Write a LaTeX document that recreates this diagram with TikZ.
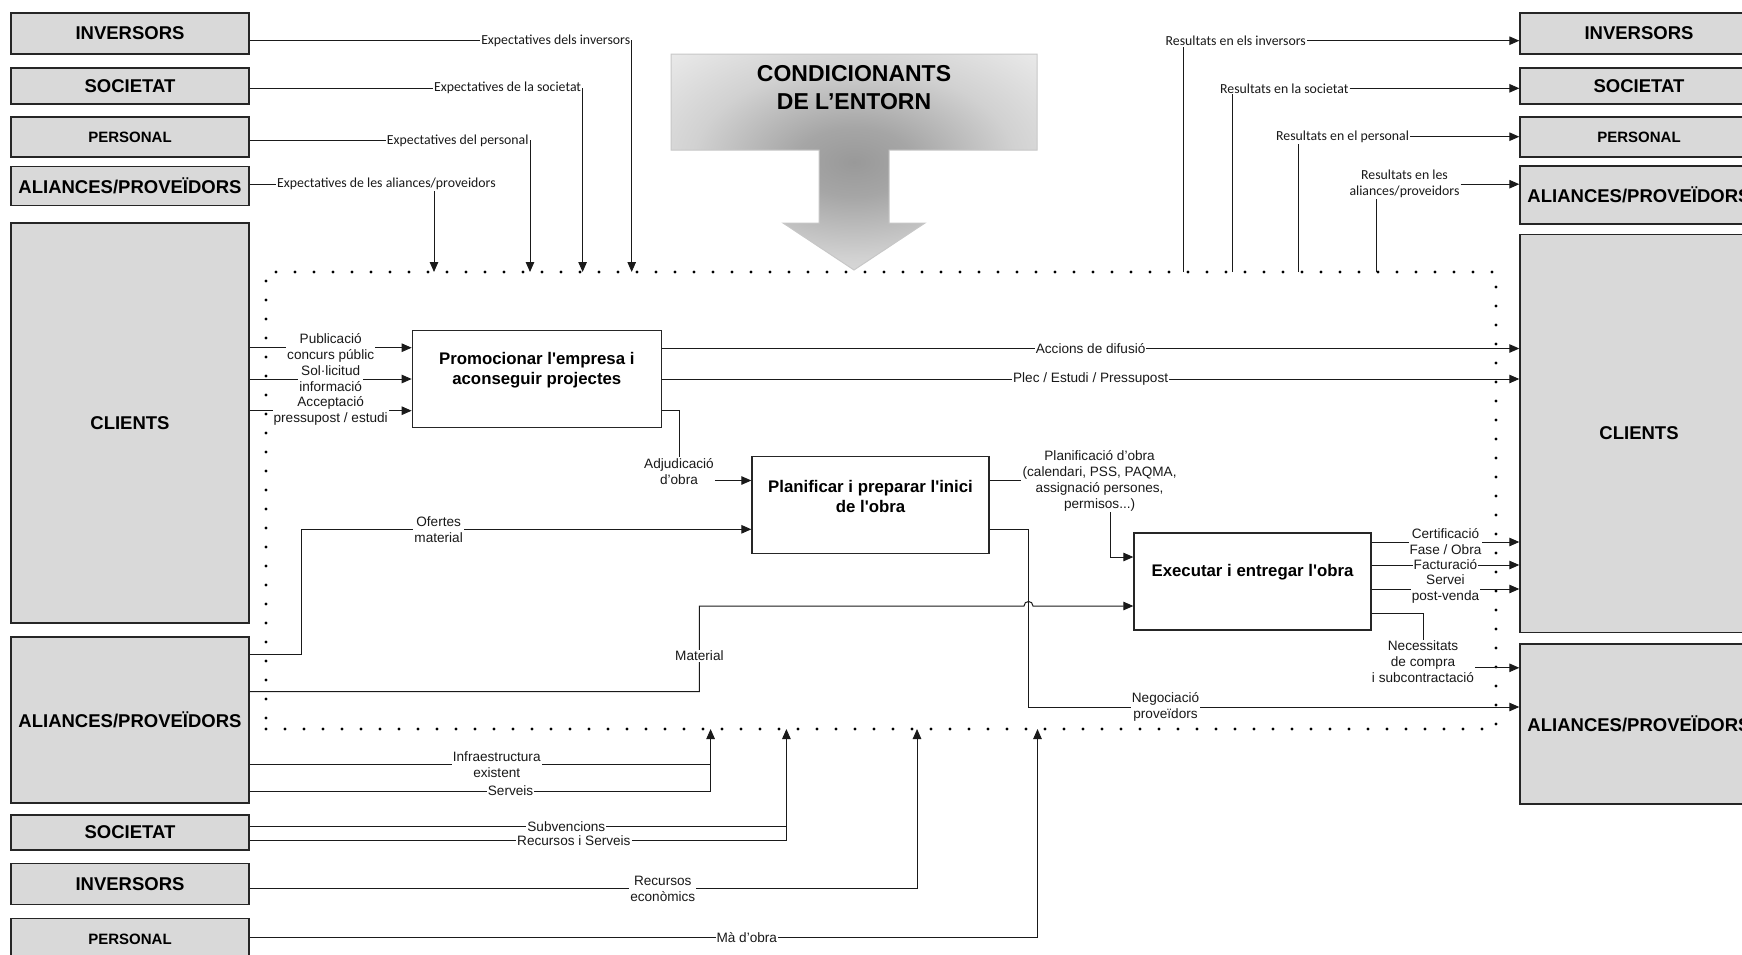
\documentclass[tikz,border=0pt]{standalone}
\usepackage{fontspec}
\setmainfont{Liberation Sans}
\newfontfamily\calfont{Carlito}
\usetikzlibrary{arrows.meta}
\definecolor{boxgray}{HTML}{D9D9D9}
\definecolor{lnk}{HTML}{1A1A1A}
\pgfdeclareradialshading{condshade}{\pgfpoint{0bp}{0bp}}{color(0bp)=(black!40); color(8bp)=(black!35); color(22bp)=(black!18); color(36bp)=(black!8); color(50bp)=(black!5)}
\newcommand\apos{\XeTeXglyph\XeTeXcharglyph"27\relax}

\begin{document}
\begin{tikzpicture}[x=1pt,y=-1pt,>={Triangle[length=10pt,width=8.5pt]},
    ent/.style={draw=black!85,fill=boxgray,line width=1.4pt,minimum width=238pt,inner sep=0pt,font=\bfseries\fontsize{18.5}{20}\selectfont},
    entsm/.style={ent,font=\bfseries\fontsize{15}{17}\selectfont},
    proc/.style={draw=black!85,fill=white,line width=1.3pt,inner sep=0pt,minimum width=237pt,minimum height=97pt},
    ptext/.style={yshift=9pt,align=center,font=\bfseries\fontsize{16.8}{20}\selectfont},
    lbl/.style={fill=white,inner sep=1pt,align=center,text=black!90,font=\fontsize{13.6}{16}\selectfont},
    lblc/.style={lbl,font=\calfont\fontsize{13.8}{16}\selectfont},
    flow/.style={draw=lnk,line width=1pt},
    dotbox/.style={draw,line width=3.2pt,dash pattern=on 0pt off 19pt,line cap=round,outer sep=0pt,inner sep=0pt}]
    \useasboundingbox (0,0) rectangle (1742,954);
    \clip (0,0) rectangle (1742,954);

    \node[ent,minimum height=41pt] (invL) at (130,33.5) {INVERSORS};
    \node[ent,minimum height=36pt] (socL) at (130,86) {SOCIETAT};
    \node[entsm,minimum height=40pt] (perL) at (130,137) {PERSONAL};
    \node[ent,minimum height=39pt] (aliL) at (130,186) {ALIANCES/PROVEÏDORS};
    \node[ent,minimum height=400pt] (cliL) at (130,423) {CLIENTS};
    \node[ent,minimum height=166pt] (aliB) at (130,720) {ALIANCES/PROVEÏDORS};
    \node[ent,minimum height=35pt] (socB) at (130,832.5) {SOCIETAT};
    \node[ent,minimum height=41pt] (invB) at (130,884) {INVERSORS};
    \node[entsm,minimum height=41pt] (perB) at (130,939) {PERSONAL};

    \node[ent,minimum height=41pt] (invR) at (1639,33.5) {INVERSORS};
    \node[ent,minimum height=36pt] (socR) at (1639,86) {SOCIETAT};
    \node[entsm,minimum height=40pt] (perR) at (1639,137) {PERSONAL};
    \node[ent,minimum height=58pt] (aliR) at (1639,195) {ALIANCES/PROVEÏDORS};
    \node[ent,minimum height=398pt] (cliR) at (1639,433.5) {CLIENTS};
    \node[ent,minimum height=160pt] (aliR2) at (1639,724) {ALIANCES/PROVEÏDORS};

    \node[dotbox,minimum width=1230pt,minimum height=457pt] (fr) at (881,500.5) {};

    \shadedraw[shading=condshade,draw=black!22,line width=1pt] (671,54) -- (1037,54) -- (1037,150) -- (889,150) -- (889,223) -- (925,223) -- (854,270) -- (783,223) -- (819,223) -- (819,150) -- (671,150) -- cycle;
    \node[align=center,font=\bfseries\fontsize{23}{28}\selectfont] (cond) at (854,88) {CONDICIONANTS\\DE L’ENTORN};

    \node[proc,minimum width=249pt,label={[ptext]center:{Promocionar l\apos empresa i\\aconseguir projectes}}] (p0) at (536.8,378.7) {};
    \node[proc,label={[ptext]center:{Planificar i preparar l\apos inici\\de l\apos obra}}] (p1) at (870.5,505.2) {};
    \node[proc,label={[ptext]center:{Executar i entregar l\apos obra}}] (p2) at (1252.5,581.5) {};

    \draw[flow,->] (invL.east |- 0,40.7) -| node[lblc,pos=0.5,anchor=east] {Expectatives dels inversors} (fr.north -| 631.7,0);
    \draw[flow,->] (socL.east |- 0,88.3) -| node[lblc,pos=0.5,anchor=east] {Expectatives de la societat} (fr.north -| 582.6,0);
    \draw[flow,->] (perL.east |- 0,140.7) -| node[lblc,pos=0.5,anchor=east] {Expectatives del personal} (fr.north -| 530,0);
    \node[lblc,anchor=west] (eAli) at (276,184.3) {Expectatives de les aliances/proveidors};
    \draw[flow] (aliL.east |- eAli.west) -- (eAli.west);
    \draw[flow,->] (eAli.south -| 434,0) -- (fr.north -| 434,0);

    \node[lblc,anchor=west] (rInv) at (1164.5,40.7) {Resultats en els inversors};
    \node[lblc,anchor=west] (rSoc) at (1219,88.3) {Resultats en la societat};
    \node[lblc,anchor=west] (rPer) at (1275,136.7) {Resultats en el personal};
    \node[lblc] (rAli) at (1404.5,184.2) {Resultats en les\\aliances/proveidors};
    \draw[flow,->] (rInv.east) -- (rInv.east -| invR.west);
    \draw[flow,->] (rSoc.east) -- (rSoc.east -| socR.west);
    \draw[flow,->] (rPer.east) -- (rPer.east -| perR.west);
    \draw[flow,->] (rAli.east) -- (rAli.east -| aliR.west);
    \draw[flow] (fr.north -| 1183,0) -- (rInv.south -| 1183,0);
    \draw[flow] (fr.north -| 1232,0) -- (rSoc.south -| 1232,0);
    \draw[flow] (fr.north -| 1298.6,0) -- (rPer.south -| 1298.6,0);
    \draw[flow] (fr.north -| 1376.4,0) -- (rAli.south -| 1376.4,0);

    \draw[flow,->] (cliL.east |- 0,347.7) -- node[lbl] {Publicació\\concurs públic} (p0.west |- 0,347.7);
    \draw[flow,->] (cliL.east |- 0,379) -- node[lbl] {Sol·licitud\\informació} (p0.west |- 0,379);
    \draw[flow,->] (cliL.east |- 0,410.7) -- node[lbl] {Acceptació\\pressupost / estudi} (p0.west |- 0,410.7);

    \draw[flow,->] (p0.east |- 0,348.5) -- node[lbl] {Accions de difusió} (cliR.west |- 0,348.5);
    \draw[flow,->] (p0.east |- 0,379) -- node[lbl] {Plec / Estudi / Pressupost} (cliR.west |- 0,379);

    \node[lbl] (adj) at (679,471.5) {Adjudicació\\d’obra};
    \draw[flow] (p0.east |- 0,410.7) -| (adj.north);
    \draw[flow,->] (adj.east |- 0,480.5) -- (p1.west |- 0,480.5);

    \draw[flow,->] (aliB.east |- 0,654) -- (301.4,654) -- (301.4,529.3) -- node[lbl,pos=0.305] {Ofertes\\material} (p1.west |- 0,529.3);
    \draw[flow,->] (aliB.east |- 0,691.7) -- (699.4,691.7) -- node[lbl,pos=0.42] {Material} (699.4,606) -- (1024,606) .. controls (1024,600) and (1033,600) .. (1033,606) -- (p2.west |- 0,606);

    \node[lbl] (plo) at (1099.6,480.4) {Planificació d’obra\\(calendari, PSS, PAQMA,\\assignació persones,\\permisos...)};
    \draw[flow] (p1.east |- 0,480.4) -- (plo.west);
    \draw[flow,->] (plo.south -| 1110,0) |- (p2.west |- 0,557);

    \draw[flow,->] (p1.east |- 0,529.3) -- (1028.6,529.3) -- (1028.6,707) -- node[lbl,pos=0.279] {Negociació\\proveïdors} (aliR2.west |- 0,707);

    \draw[flow,->] (p2.east |- 0,542) -- node[lbl] {Certificació\\Fase / Obra} (cliR.west |- 0,542);
    \draw[flow,->] (p2.east |- 0,565) -- node[lbl] {Facturació} (cliR.west |- 0,565);
    \draw[flow,->] (p2.east |- 0,589) -- node[lbl] {Servei\\post-venda} (cliR.west |- 0,589);
    \node[lbl] (nec) at (1423,662) {Necessitats\\de compra\\i subcontractació};
    \draw[flow] (p2.east |- 0,613.4) -| (nec.north);
    \draw[flow,->] (nec.east |- 0,667.8) -- (aliR2.west |- 0,667.8);

    \draw[flow,->] (aliB.east |- 0,764.3) -- node[lbl,pos=0.536] {Infraestructura\\existent} (710.6,764.3) -- (fr.south -| 710.6,0);
    \draw[flow] (aliB.east |- 0,791) -- node[lbl,pos=0.566] {Serveis} (710.6,791) -- (710.6,764.3);
    \draw[flow,->] (socB.east |- 0,826.7) -- node[lbl,pos=0.59] {Subvencions} (786.4,826.7) -- (fr.south -| 786.4,0);
    \draw[flow] (socB.east |- 0,840.7) -- node[lbl,pos=0.604] {Recursos i Serveis} (786.4,840.7) -- (786.4,826.7);
    \draw[flow,->] (invB.east |- 0,888.7) -- node[lbl,pos=0.619] {Recursos\\econòmics} (917,888.7) -- (fr.south -| 917,0);
    \draw[flow,->] (perB.east |- 0,937.3) -- node[lbl,pos=0.631] {Mà d’obra} (1037.5,937.3) -- (fr.south -| 1037.5,0);
\end{tikzpicture}
\end{document}
